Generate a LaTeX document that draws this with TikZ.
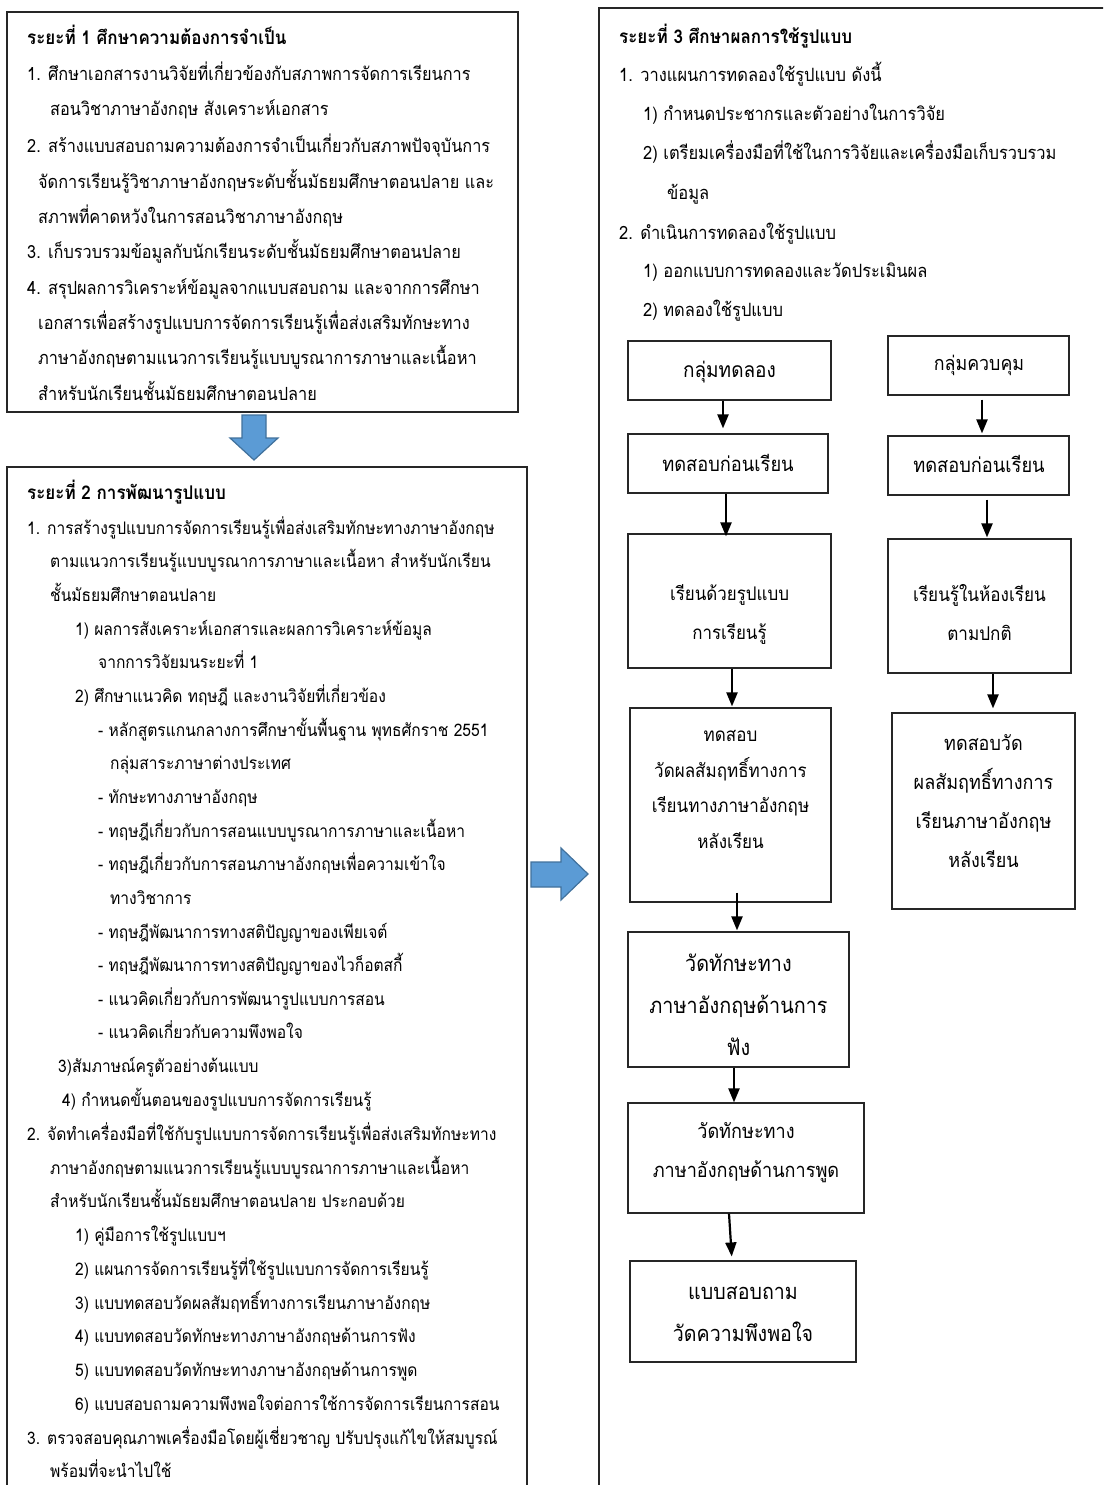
\documentclass[tikz,border=0pt]{standalone}
\usepackage{fontspec}
\newfontfamily\thaifont[Script=Thai,FakeStretch=0.9]{Loma}
\usetikzlibrary{arrows.meta}
\definecolor{arrowblue}{HTML}{5B9BD5}
\definecolor{arrowedge}{HTML}{41719C}
\tikzset{
  bodytext/.style={font=\thaifont\fontsize{#1}{20}\selectfont, anchor=base west,
    inner sep=0pt},
  bodytext/.default=18,
  headtext/.style={bodytext, font=\thaifont\bfseries\fontsize{18.9}{20}\selectfont},
  phasebox/.style={draw=black!85, line width=1.2pt},
  flowbox/.style={draw=black!85, line width=1.2pt, inner sep=0pt},
  flowtext/.style={font=\thaifont\fontsize{#1}{39}\selectfont, align=center, inner sep=0pt},
  flowtext/.default=20,
  flowsmall/.style={flowtext, font=\thaifont\fontsize{18.9}{35.5}\selectfont},
  flowbig/.style={flowtext, font=\thaifont\fontsize{#1}{42}\selectfont},
  flowarrow/.style={-{Triangle[length=14pt,width=11pt]}, line width=2.2pt},
  bigarrow/.style={fill=arrowblue, draw=arrowedge, line width=1.2pt}
}
\begin{document}
\begin{tikzpicture}[x=1pt,y=-1pt]
  \useasboundingbox (0,0) rectangle (1103,1485);
  \clip (0,0) rectangle (1103,1485);

  %%%%%%%%%%%%%%%%%%%%%%%%%%%%%%%%%%%%%%%%%%%%%%%%%%%%%%%%%%%%%%%%%%%%%%%%%%%
  %%%%  Phase 1
  \draw[phasebox] (7,12) rectangle (518,412);
  \node[headtext] (ph1-head) at (27,45) {ระยะที่ 1 ศึกษาความต้องการจำเป็น};
  \foreach \x/\y/\t [count=\i] in {
    27/74/{1. ศึกษาเอกสารงานวิจัยที่เกี่ยวข้องกับสภาพการจัดการเรียนการ},
    50/109/{สอนวิชาภาษาอังกฤษ สังเคราะห์เอกสาร},
    27/145/{2. สร้างแบบสอบถามความต้องการจำเป็นเกี่ยวกับสภาพปัจจุบันการ},
    38/181/{จัดการเรียนรู้วิชาภาษาอังกฤษระดับชั้นมัธยมศึกษาตอนปลาย และ},
    38/216/{สภาพที่คาดหวังในการสอนวิชาภาษาอังกฤษ},
    27/251/{3. เก็บรวบรวมข้อมูลกับนักเรียนระดับชั้นมัธยมศึกษาตอนปลาย},
    27/287/{4. สรุปผลการวิเคราะห์ข้อมูลจากแบบสอบถาม และจากการศึกษา},
    38/322/{เอกสารเพื่อสร้างรูปแบบการจัดการเรียนรู้เพื่อส่งเสริมทักษะทาง},
    38/357/{ภาษาอังกฤษตามแนวการเรียนรู้แบบบูรณาการภาษาและเนื้อหา},
    38/393/{สำหรับนักเรียนชั้นมัธยมศึกษาตอนปลาย}}
   {\node[bodytext=18.1] (ph1-\i) at (\x,{\y+7}) {\t};}

  \draw[bigarrow] (242,415) -- (266,415) -- (266,438) -- (278,438)
    -- (254,460) -- (230,438) -- (242,438) -- cycle;

  %%%%%%%%%%%%%%%%%%%%%%%%%%%%%%%%%%%%%%%%%%%%%%%%%%%%%%%%%%%%%%%%%%%%%%%%%%%
  %%%%  Phase 2
  \draw[phasebox] (7,1495) -- (7,467) -- (527,467) -- (527,1495);
  \node[headtext] (ph2-head) at (27,499) {ระยะที่ 2 การพัฒนารูปแบบ};
  \foreach \x/\y/\t [count=\i] in {
    27/527/{1. การสร้างรูปแบบการจัดการเรียนรู้เพื่อส่งเสริมทักษะทางภาษาอังกฤษ},
    50/560/{ตามแนวการเรียนรู้แบบบูรณาการภาษาและเนื้อหา สำหรับนักเรียน},
    50/594/{ชั้นมัธยมศึกษาตอนปลาย},
    75/628/{1) ผลการสังเคราะห์เอกสารและผลการวิเคราะห์ข้อมูล},
    98/661/{จากการวิจัยมนระยะที่ 1},
    75/695/{2) ศึกษาแนวคิด ทฤษฎี และงานวิจัยที่เกี่ยวข้อง},
    98/729/{- หลักสูตรแกนกลางการศึกษาขั้นพื้นฐาน พุทธศักราช 2551},
    110/762/{กลุ่มสาระภาษาต่างประเทศ},
    98/796/{- ทักษะทางภาษาอังกฤษ},
    98/830/{- ทฤษฎีเกี่ยวกับการสอนแบบบูรณาการภาษาและเนื้อหา},
    98/863/{- ทฤษฎีเกี่ยวกับการสอนภาษาอังกฤษเพื่อความเข้าใจ},
    110/897/{ทางวิชาการ},
    98/931/{- ทฤษฎีพัฒนาการทางสติปัญญาของเพียเจต์},
    98/964/{- ทฤษฎีพัฒนาการทางสติปัญญาของไวก็อตสกี้},
    98/998/{- แนวคิดเกี่ยวกับการพัฒนารูปแบบการสอน},
    98/1031/{- แนวคิดเกี่ยวกับความพึงพอใจ},
    58/1065/{3)สัมภาษณ์ครูตัวอย่างต้นแบบ},
    62/1099/{4) กำหนดขั้นตอนของรูปแบบการจัดการเรียนรู้},
    27/1133/{2. จัดทำเครื่องมือที่ใช้กับรูปแบบการจัดการเรียนรู้เพื่อส่งเสริมทักษะทาง},
    50/1167/{ภาษาอังกฤษตามแนวการเรียนรู้แบบบูรณาการภาษาและเนื้อหา},
    50/1200/{สำหรับนักเรียนชั้นมัธยมศึกษาตอนปลาย ประกอบด้วย},
    75/1234/{1) คู่มือการใช้รูปแบบฯ},
    75/1268/{2) แผนการจัดการเรียนรู้ที่ใช้รูปแบบการจัดการเรียนรู้},
    75/1302/{3) แบบทดสอบวัดผลสัมฤทธิ์ทางการเรียนภาษาอังกฤษ},
    75/1335/{4) แบบทดสอบวัดทักษะทางภาษาอังกฤษด้านการฟัง},
    75/1369/{5) แบบทดสอบวัดทักษะทางภาษาอังกฤษด้านการพูด},
    75/1403/{6) แบบสอบถามความพึงพอใจต่อการใช้การจัดการเรียนการสอน},
    27/1437/{3. ตรวจสอบคุณภาพเครื่องมือโดยผู้เชี่ยวชาญ ปรับปรุงแก้ไขให้สมบูรณ์},
    50/1470/{พร้อมที่จะนำไปใช้}}
   {\node[bodytext=17.3] (ph2-\i) at (\x,{\y+7}) {\t};}

  \draw[bigarrow] (531,862) -- (561,862) -- (561,848) -- (588,874)
    -- (561,900) -- (561,887) -- (531,887) -- cycle;

  %%%%%%%%%%%%%%%%%%%%%%%%%%%%%%%%%%%%%%%%%%%%%%%%%%%%%%%%%%%%%%%%%%%%%%%%%%%
  %%%%  Phase 3
  \draw[phasebox] (599,1495) -- (599,8) -- (1110,8);
  \node[headtext] (ph3-head) at (619,44) {ระยะที่ 3 ศึกษาผลการใช้รูปแบบ};
  \foreach \x/\y/\t [count=\i] in {
    619/75/{1. วางแผนการทดลองใช้รูปแบบ ดังนี้},
    643/114/{1) กำหนดประชากรและตัวอย่างในการวิจัย},
    643/153/{2) เตรียมเครื่องมือที่ใช้ในการวิจัยและเครื่องมือเก็บรวบรวม},
    667/192/{ข้อมูล},
    619/232/{2. ดำเนินการทดลองใช้รูปแบบ},
    643/270/{1) ออกแบบการทดลองและวัดประเมินผล},
    643/309/{2) ทดลองใช้รูปแบบ}}
   {\node[bodytext=18.3] (ph3-\i) at (\x,{\y+7}) {\t};}

  %%%%  Flow boxes (a = experimental group, b = control group)
  \foreach \nm/\cx/\cy/\w/\h in {
    a1/729.5/370.5/203/59, a2/728/463.5/200/59, a3/729.5/601/203/134,
    a4/730.5/805/201/194, a5/738.5/999.5/221/135, a6/746/1158/236/110,
    a7/743/1311.5/226/101,
    b1/978.5/365.5/181/59, b2/978.5/465.5/181/59, b3/979.5/606/183/134,
    b4/983.5/811/183/196}
   {\node[flowbox, minimum width=\w pt, minimum height=\h pt] (\nm) at (\cx,\cy) {};}

  \node[flowtext=21.1] (a1-t) at (729.5,372) {กลุ่มทดลอง};
  \node[flowtext=20.3] (a2-t) at (728,463) {ทดสอบก่อนเรียน};
  \node[flowtext=18.8] (a3-t) at (729.5,614.5) {เรียนด้วยรูปแบบ\\การเรียนรู้};
  \node[flowsmall]     (a4-t) at (730.5,789.5) {ทดสอบ\\วัดผลสัมฤทธิ์ทางการ\\เรียนทางภาษาอังกฤษ\\หลังเรียน};
  \node[flowbig=22]    (a5-t) at (738.5,1005) {วัดทักษะทาง\\ภาษาอังกฤษด้านการ\\ฟัง};
  \node[flowtext=20.1] (a6-t) at (746,1153) {วัดทักษะทาง\\ภาษาอังกฤษด้านการพูด};
  \node[flowbig=21.8]  (a7-t) at (743,1314) {แบบสอบถาม\\วัดความพึงพอใจ};
  \node[flowtext=19.8] (b1-t) at (979,365.5) {กลุ่มควบคุม};
  \node[flowtext=20.3] (b2-t) at (979,464) {ทดสอบก่อนเรียน};
  \node[flowtext=19]   (b3-t) at (979.5,612.5) {เรียนรู้ในห้องเรียน\\ตามปกติ};
  \node[flowtext=20]   (b4-t) at (983.5,801) {ทดสอบวัด\\ผลสัมฤทธิ์ทางการ\\เรียนภาษาอังกฤษ\\หลังเรียน};

  %%%%  Connectors
  \draw[flowarrow, shorten >=5pt] (a1.south -| 723,0) -- (a2.north -| 723,0);
  \draw[flowarrow, shorten >=-3pt] (a2.south -| 726,0) -- (a3.north -| 726,0);
  \draw[flowarrow, shorten >=1pt] (a3.south -| 732,0) -- (a4.north -| 732,0);
  \draw[flowarrow, shorten <=-10pt, shorten >=1pt] (a4.south -| 737,0) -- (a5.north -| 737,0);
  \draw[flowarrow] (a5.south -| 734,0) -- (a6.north -| 734,0);
  \draw[flowarrow, shorten >=4pt] (a6.south -| 729,0) -- (a7.north -| 732,0);
  \draw[flowarrow, shorten <=4pt, shorten >=2pt] (b1.south -| 982,0) -- (b2.north -| 982,0);
  \draw[flowarrow, shorten <=4pt, shorten >=1pt] (b2.south -| 987,0) -- (b3.north -| 987,0);
  \draw[flowarrow, shorten >=4pt] (b3.south -| 993,0) -- (b4.north -| 993,0);
\end{tikzpicture}
\end{document}
